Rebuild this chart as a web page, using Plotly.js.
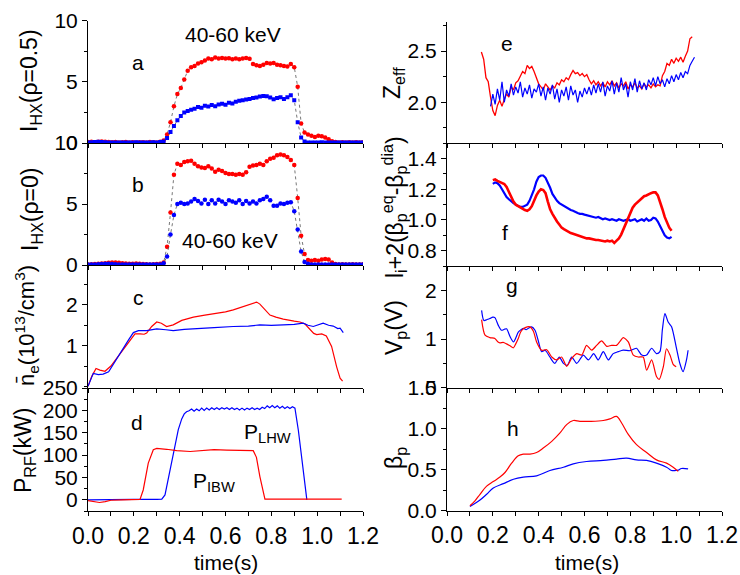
<!DOCTYPE html>
<html>
<head>
<meta charset="utf-8">
<script src="https://cdn.plot.ly/plotly-3.0.1.min.js"></script>
<style>html,body{margin:0;padding:0;background:#fff;}#chart{width:740px;height:575px;}</style>
</head>
<body>
<div id="chart"></div>
<script>
// ---------- data ----------
// panels a, b : hard X-ray intensity (40-60 keV), common sampling times
const t_hx = [0,0.015,0.03,0.045,0.06,0.075,0.09,0.105,0.12,0.135,0.15,0.165,0.18,0.195,0.21,0.225,0.24,0.255,0.27,0.285,0.3,0.315,0.33,0.345,0.36,0.375,0.39,0.405,0.42,0.435,0.45,0.465,0.48,0.495,0.51,0.525,0.54,0.555,0.57,0.585,0.6,0.615,0.63,0.645,0.66,0.675,0.69,0.705,0.72,0.735,0.75,0.765,0.78,0.795,0.81,0.825,0.84,0.855,0.87,0.885,0.9,0.915,0.93,0.945,0.96,0.975,0.99,1.005,1.02,1.035,1.05,1.065,1.08,1.095,1.11,1.125,1.14,1.155,1.17,1.185,1.2];
const a_red = [0.08,0.1,0.06,0.1,0.12,0.1,0.08,0.06,0.08,0.05,0.06,0.08,0.05,0.06,0.05,0.07,0.06,0.05,0.08,0.06,0.05,0.1,
  0.2,0.7,1.7,3.0,4.0,4.5,5.2,5.9,6.2,6.3,6.5,6.6,6.75,6.9,6.85,7.0,6.9,6.95,6.9,6.92,6.85,6.9,6.85,6.9,6.95,6.88,
  6.45,6.35,6.3,6.4,6.55,6.5,6.55,6.4,6.35,6.3,6.25,6.45,6.2,4.6,1.6,0.85,0.7,0.6,0.5,0.6,0.55,0.45,0.3,0.15,0.08,
  0.05,0.06,0.05,0.07,0.05,0.06,0.05,0.06];
const a_blue = [0.05,0.06,0.08,0.1,0.08,0.06,0.05,0.05,0.04,0.05,0.05,0.04,0.05,0.05,0.06,0.05,0.04,0.05,0.05,0.06,0.05,0.08,0.12,
  0.4,0.9,1.4,1.85,2.2,2.5,2.62,2.72,2.8,2.95,2.88,3.05,2.98,3.1,3.0,3.15,3.2,3.12,3.3,3.22,3.38,3.45,3.5,3.55,3.6,
  3.68,3.72,3.8,3.85,3.82,3.72,3.58,3.68,3.75,3.6,3.75,3.9,3.5,1.7,0.45,0.12,
  0.05,0.04,0.05,0.05,0.06,0.05,0.04,0.05,0.05,0.04,0.05,0.05,0.04,0.05,0.05,0.04,0.05];
const b_red = [0.05,0.06,0.08,0.1,0.12,0.15,0.18,0.2,0.2,0.18,0.15,0.12,0.1,0.1,0.12,0.1,0.08,0.06,0.05,0.06,0.08,0.1,
  0.2,1.5,4.3,7.4,8.3,8.2,8.45,8.5,8.55,8.3,8.1,8.0,7.95,8.1,7.9,7.65,7.8,7.7,7.55,7.45,7.45,7.4,7.45,7.4,7.6,8.05,
  8.15,8.2,8.3,8.2,8.5,8.7,8.8,9.0,9.05,9.0,8.85,8.6,8.2,5.5,2.4,0.9,0.4,0.35,0.4,0.35,0.45,0.5,0.45,0.2,0.08,
  0.05,0.06,0.05,0.05,0.06,0.05,0.05,0.06];
const b_blue = [0.05,0.04,0.05,0.06,0.08,0.1,0.1,0.08,0.06,0.05,0.05,0.04,0.05,0.05,0.04,0.05,0.05,0.04,0.05,0.05,0.04,0.05,0.15,
  0.7,2.5,4.1,5.0,5.1,5.0,5.05,5.2,5.4,5.25,5.05,5.35,5.0,5.3,5.05,5.35,5.2,5.0,5.3,5.2,5.1,5.3,5.0,5.25,5.05,
  5.2,5.05,5.3,5.4,5.6,5.3,4.85,4.85,5.05,5.0,5.1,5.15,4.4,2.9,1.1,0.25,
  0.1,0.05,0.04,0.05,0.05,0.04,0.05,0.05,0.04,0.05,0.05,0.04,0.05,0.05,0.04,0.05,0.05];

// panel c : line-averaged density
const c_red_t = [0,0.016,0.035,0.052,0.074,0.1,0.125,0.153,0.183,0.205,0.227,0.245,0.256,0.278,0.3,0.32,0.343,0.372,0.409,0.46,0.51,0.56,0.6,0.634,0.692,0.72,0.736,0.75,0.765,0.78,0.794,0.82,0.852,0.9,0.925,0.947,0.969,0.985,0.998,1.02,1.04,1.063,1.085,1.1,1.111];
const c_red   = [0,0.24,0.44,0.40,0.37,0.50,0.69,0.90,1.14,1.29,1.29,1.28,1.31,1.47,1.58,1.55,1.47,1.51,1.62,1.70,1.75,1.79,1.83,1.88,1.98,2.03,2.07,2.02,1.93,1.82,1.75,1.70,1.65,1.60,1.58,1.53,1.40,1.30,1.27,1.29,1.24,0.98,0.48,0.20,0.13];
const c_blue_t = [0,0.023,0.045,0.066,0.09,0.12,0.147,0.177,0.198,0.22,0.256,0.3,0.34,0.372,0.42,0.489,0.55,0.634,0.7,0.75,0.8,0.852,0.9,0.939,0.96,0.983,1.005,1.026,1.05,1.07,1.09,1.1,1.114];
const c_blue   = [0,0.32,0.29,0.30,0.36,0.64,0.87,1.14,1.32,1.37,1.37,1.41,1.39,1.37,1.40,1.43,1.44,1.47,1.48,1.51,1.50,1.51,1.52,1.55,1.50,1.47,1.52,1.55,1.50,1.48,1.42,1.43,1.32];

// panel d : RF power (kW)
const lhw_t = [0,0.05,0.1,0.2,0.3,0.322,0.336,0.35,0.365,0.38,0.394,0.409,0.42,0.43,
  0.441,0.452,0.463,0.474,0.485,0.496,0.507,0.518,0.529,0.540,0.551,0.562,0.573,0.584,0.595,0.606,0.617,0.628,0.639,0.650,0.661,0.672,0.683,0.694,0.705,0.716,0.727,0.738,0.749,0.760,0.771,0.782,0.793,0.804,0.815,0.826,0.837,0.848,0.859,0.870,0.881,0.892,0.903,
  0.918,0.932,0.947,0.955];
const lhw_p = [0,0.5,1,1,1,1.5,11,45,82,120,157,181,192,197,
  199,203,198,203,199,205,200,205,201,206,202,206,202,206,203,206,202,206,202,205,201,205,201,205,202,206,202,205,202,207,204,210,206,211,206,210,205,209,204,208,204,208,205,
  155,100,40,0];
const ibw_t = [0,0.025,0.05,0.075,0.1,0.15,0.227,0.241,0.263,0.285,0.3,0.343,0.387,0.446,0.49,0.55,0.605,0.663,0.721,0.735,0.75,0.772,0.85,0.95,1.05,1.107];
const ibw_p = [-2,-4,-6,-4,-1,0,1,22,82,112,115,113,110,108,110,112,111,110,110,95,52,1.5,1.5,1.5,1.5,1.5];

// panels e, f : common sampling times
const t_r = [0.10,0.11,0.12,0.13,0.14,0.15,0.16,0.17,0.18,0.19,0.20,0.21,0.22,0.23,0.24,0.25,0.26,0.27,0.28,0.29,0.30,0.31,0.32,0.33,0.34,0.35,0.36,0.37,0.38,0.39,0.40,0.41,0.42,0.43,0.44,0.45,0.46,0.47,0.48,0.49,0.50,0.51,0.52,0.53,0.54,0.55,0.56,0.57,0.58,0.59,0.60,0.61,0.62,0.63,0.64,0.65,0.66,0.67,0.68,0.69,0.70,0.71,0.72,0.73,0.74,0.75,0.76,0.77,0.78,0.79,0.80,0.81,0.82,0.83,0.84,0.85,0.86,0.87,0.88,0.89,0.90,0.91,0.92,0.93,0.94,0.95,0.96,0.97,0.98,0.99,1.00,1.01,1.02,1.03,1.04,1.05,1.06,1.07,1.08];
const e_red = [null,null,null,null,null,
  2.49,2.42,2.24,2.20,2.05,1.92,1.87,1.97,2.02,1.96,
  2.03,2.08,2.05,2.15,2.12,2.19,2.21,2.25,2.30,2.28,
  2.36,2.33,2.35,2.30,2.24,2.18,2.15,2.12,2.18,2.15,
  2.12,2.16,2.14,2.19,2.17,2.22,2.20,2.24,2.22,2.27,
  2.31,2.28,2.29,2.26,2.28,2.25,2.27,2.22,2.18,2.21,
  2.17,2.20,2.16,2.19,2.15,2.20,2.17,2.21,2.16,2.19,
  2.14,2.18,2.16,2.20,2.13,2.17,2.15,2.19,2.14,2.16,
  2.13,2.18,2.15,2.17,2.14,2.18,2.15,2.17,2.16,2.26,
  2.30,2.38,2.36,2.42,2.38,2.43,2.40,2.44,2.39,2.45,
  2.50,2.62,2.64,null];
const e_blue = [null,null,null,null,null,null,null,null,null,
  1.96,2.08,1.98,2.13,2.02,2.20,2.00,2.12,2.06,2.18,
  2.07,2.15,2.09,2.20,2.05,2.14,2.08,2.17,2.04,2.13,
  2.10,2.18,2.06,2.15,2.02,2.14,2.08,2.17,2.03,2.13,
  2.00,2.12,2.06,2.15,2.02,2.16,2.07,2.12,2.00,2.11,
  2.05,2.14,2.08,2.15,2.07,2.17,2.09,2.18,2.10,2.20,
  2.06,2.16,2.11,2.21,2.08,2.19,2.10,2.24,2.12,2.18,
  2.05,2.20,2.12,2.23,2.10,2.21,2.13,2.19,2.12,2.22,
  2.17,2.24,2.16,2.25,2.18,2.22,2.15,2.23,2.18,2.26,
  2.20,2.27,2.22,2.29,2.24,2.30,2.28,2.36,2.40,2.44];
const f_red = [null,null,null,null,null,null,null,null,null,null,
  1.26,1.265,1.255,1.25,1.245,1.235,1.215,1.18,1.145,1.12,
  1.10,1.09,1.085,1.075,1.065,1.06,1.07,1.09,1.13,1.16,
  1.185,1.20,1.195,1.175,1.12,1.07,1.04,1.01,0.99,0.97,
  0.95,0.94,0.93,0.925,0.915,0.91,0.905,0.895,0.89,0.89,
  0.885,0.88,0.88,0.875,0.875,0.87,0.87,0.865,0.865,0.86,
  0.865,0.86,0.865,0.85,0.865,0.88,0.905,0.94,0.98,1.02,
  1.05,1.08,1.10,1.115,1.13,1.145,1.155,1.16,1.17,1.175,
  1.18,1.18,1.16,1.12,1.07,1.02,0.98,0.95,0.93,
  null,null,null,null,null,null,null,null,null,null];
const f_blue = [null,null,null,null,null,null,null,null,null,null,
  1.235,1.245,1.24,1.225,1.20,1.175,1.15,1.135,1.12,1.11,
  1.10,1.09,1.085,1.085,1.09,1.10,1.125,1.16,1.20,1.25,
  1.28,1.29,1.29,1.275,1.245,1.21,1.17,1.145,1.125,1.11,
  1.10,1.09,1.08,1.07,1.065,1.06,1.05,1.045,1.04,1.04,
  1.035,1.03,1.025,1.025,1.02,1.015,1.02,1.01,1.005,1.01,
  1.005,1.00,1.005,1.00,0.995,1.005,1.00,0.995,1.00,1.005,
  0.995,1.00,1.005,0.99,1.00,1.005,0.995,1.01,0.995,1.00,
  1.015,1.01,0.99,0.96,0.93,0.90,0.885,0.88,0.89,
  null,null,null,null,null,null,null,null,null,null];

// panel g : loop voltage
const g_blue_t = [0.151,0.161,0.175,0.187,0.2,0.209,0.224,0.238,0.25,0.26,0.275,0.29,0.3,0.311,0.333,0.345,0.355,0.369,0.384,0.398,0.413,0.428,0.449,0.46,0.471,0.49,0.508,0.525,0.544,0.566,0.595,0.617,0.64,0.66,0.682,0.704,0.725,0.747,0.769,0.798,0.813,0.827,0.85,0.871,0.893,0.914,0.929,0.94,0.951,0.965,0.98,1.0,1.016,1.03,1.045,1.052];
const g_blue   = [1.59,1.38,1.40,1.42,1.45,1.44,1.28,1.18,1.20,1.21,1.05,0.94,1.02,1.14,1.22,1.19,1.22,1.25,1.18,0.97,0.74,0.77,0.63,0.55,0.50,0.63,0.50,0.46,0.63,0.50,0.67,0.57,0.70,0.57,0.74,0.57,0.70,0.74,0.77,0.76,0.79,0.81,0.67,0.67,0.81,0.70,0.74,1.20,1.52,1.35,1.25,0.84,0.50,0.33,0.57,0.77];
const g_red_t = [0.151,0.166,0.187,0.209,0.22,0.231,0.245,0.26,0.275,0.29,0.3,0.311,0.322,0.333,0.35,0.362,0.377,0.391,0.413,0.435,0.457,0.478,0.5,0.522,0.544,0.566,0.588,0.609,0.631,0.653,0.675,0.697,0.718,0.74,0.755,0.769,0.791,0.813,0.835,0.856,0.871,0.893,0.914,0.926,0.944,0.958,0.973,0.987,1.0];
const g_red   = [1.40,1.08,1.03,1.01,0.95,0.92,0.93,0.90,0.86,0.82,0.90,1.01,1.15,1.21,1.25,1.25,1.16,0.94,0.77,0.78,0.63,0.57,0.63,0.44,0.60,0.70,0.67,0.87,0.77,0.87,0.96,0.85,0.87,0.87,0.95,1.03,0.94,0.67,0.63,0.63,0.36,0.57,0.23,0.17,0.43,0.80,0.67,0.48,0.43];

// panel h : poloidal beta
const h_red_t = [0.1,0.122,0.144,0.173,0.202,0.231,0.253,0.282,0.311,0.333,0.362,0.391,0.42,0.457,0.493,0.522,0.551,0.58,0.624,0.682,0.711,0.74,0.762,0.791,0.827,0.871,0.914,0.958,0.987,1.009];
const h_red   = [0.06,0.12,0.20,0.30,0.355,0.41,0.466,0.58,0.67,0.69,0.69,0.71,0.764,0.846,0.948,1.05,1.10,1.09,1.09,1.10,1.12,1.15,1.07,0.93,0.805,0.71,0.62,0.58,0.53,0.48];
const h_blue_t = [0.1,0.144,0.173,0.202,0.246,0.29,0.333,0.391,0.449,0.508,0.551,0.609,0.682,0.74,0.784,0.827,0.871,0.914,0.958,0.98,0.998,1.009,1.023,1.052];
const h_blue   = [0.05,0.13,0.20,0.276,0.33,0.384,0.41,0.425,0.49,0.53,0.572,0.60,0.613,0.63,0.64,0.62,0.613,0.58,0.53,0.49,0.49,0.495,0.515,0.51];

// ---------- figure ----------
const RED = '#ff0000', BLUE = '#0000ff';
const FONT = 'Liberation Sans, Arial, sans-serif';
const W = 740, H = 575;
const px = x => x / W, py = y => 1 - y / H;
const LX = [px(88), px(363)], RX = [px(447), px(722)];

function xax(dom, anchor, labels) {
  return {domain: dom, anchor: anchor, range: [0, 1.2], showline: true, linecolor: '#000', linewidth: 1,
    ticks: 'outside', ticklen: 4, tickcolor: '#000', tickwidth: 1, dtick: 0.2, tick0: 0, tickformat: '.1f',
    showticklabels: labels, tickfont: {family: FONT, size: 23, color: '#000'},
    showgrid: false, zeroline: false,
    minor: {dtick: 0.1, tick0: 0, ticks: 'outside', ticklen: 4, tickcolor: '#000', showgrid: false}};
}
function yax(y0, y1, anchor, range, o) {
  return Object.assign({domain: [py(y1), py(y0)], anchor: anchor, range: range, showline: true, linecolor: '#000', linewidth: 1,
    ticks: 'outside', ticklen: 5, tickcolor: '#000', tickfont: {family: FONT, size: 21, color: '#000'},
    showgrid: false, zeroline: false}, o);
}
function mn(d, t0) { return {dtick: d, tick0: t0 || 0, ticks: 'outside', ticklen: 3, tickcolor: '#000', showgrid: false}; }

const dotLine = {color: '#555', width: 0.8, dash: 'dot'};
const traces = [
  {x: t_hx, y: a_red, xaxis: 'x', yaxis: 'y', mode: 'lines+markers', line: dotLine, marker: {color: RED, size: 4.5, symbol: 'circle'}},
  {x: t_hx, y: a_blue, xaxis: 'x', yaxis: 'y', mode: 'lines+markers', line: dotLine, marker: {color: BLUE, size: 4, symbol: 'square'}},
  {x: t_hx, y: b_red, xaxis: 'x2', yaxis: 'y2', mode: 'lines+markers', line: dotLine, marker: {color: RED, size: 4.5}},
  {x: t_hx, y: b_blue, xaxis: 'x2', yaxis: 'y2', mode: 'lines+markers', line: dotLine, marker: {color: BLUE, size: 4.5}},
  {x: c_red_t, y: c_red, xaxis: 'x3', yaxis: 'y3', mode: 'lines', line: {color: RED, width: 1.2}},
  {x: c_blue_t, y: c_blue, xaxis: 'x3', yaxis: 'y3', mode: 'lines', line: {color: BLUE, width: 1.2}},
  {x: lhw_t, y: lhw_p, xaxis: 'x4', yaxis: 'y4', mode: 'lines', line: {color: BLUE, width: 1.2}},
  {x: ibw_t, y: ibw_p, xaxis: 'x4', yaxis: 'y4', mode: 'lines', line: {color: RED, width: 1.2}},
  {x: t_r, y: e_red, xaxis: 'x5', yaxis: 'y5', mode: 'lines', line: {color: RED, width: 1.3}},
  {x: t_r, y: e_blue, xaxis: 'x5', yaxis: 'y5', mode: 'lines', line: {color: BLUE, width: 1.2}},
  {x: t_r, y: f_blue, xaxis: 'x6', yaxis: 'y6', mode: 'lines', line: {color: BLUE, width: 2.2}},
  {x: t_r, y: f_red, xaxis: 'x6', yaxis: 'y6', mode: 'lines', line: {color: RED, width: 2.6}},
  {x: g_blue_t, y: g_blue, xaxis: 'x7', yaxis: 'y7', mode: 'lines', line: {color: BLUE, width: 1.2, shape: 'spline', smoothing: 0.7}},
  {x: g_red_t, y: g_red, xaxis: 'x7', yaxis: 'y7', mode: 'lines', line: {color: RED, width: 1.2, shape: 'spline', smoothing: 0.7}},
  {x: h_blue_t, y: h_blue, xaxis: 'x8', yaxis: 'y8', mode: 'lines', line: {color: BLUE, width: 1.2, shape: 'spline'}},
  {x: h_red_t, y: h_red, xaxis: 'x8', yaxis: 'y8', mode: 'lines', line: {color: RED, width: 1.2, shape: 'spline'}}
];

function ann(text, x, y, size, angle) {
  return {text: text, x: px(x), y: py(y), xref: 'paper', yref: 'paper', showarrow: false,
    xanchor: 'center', yanchor: 'middle', textangle: angle || 0,
    font: {family: FONT, size: size || 20, color: '#000'}};
}

const layout = {
  width: W, height: H, margin: {l: 0, r: 0, t: 0, b: 0}, showlegend: false,
  paper_bgcolor: '#fff', plot_bgcolor: '#fff', font: {family: FONT, color: '#000'},
  xaxis: xax(LX, 'y', false),
  xaxis2: xax(LX, 'y2', false),
  xaxis3: xax(LX, 'y3', false),
  xaxis4: xax(LX, 'y4', true),
  xaxis5: xax(RX, 'y5', false),
  xaxis6: xax(RX, 'y6', false),
  xaxis7: xax(RX, 'y7', false),
  xaxis8: xax(RX, 'y8', true),
  yaxis: yax(20.7, 143, 'x', [0, 10], {dtick: 5, tick0: 0, minor: mn(2.5)}),
  yaxis2: yax(143, 265, 'x2', [0, 10], {dtick: 5, tick0: 0, minor: mn(2.5)}),
  yaxis3: yax(265, 388, 'x3', [-0.04, 2.98], {tickvals: [1, 2], ticktext: ['1', '2'], minor: mn(0.5, 0.5)}),
  yaxis4: yax(388, 511, 'x4', [-25, 250], {dtick: 50, tick0: 0, minor: mn(25)}),
  yaxis5: yax(21.7, 143.3, 'x5', [1.6, 2.786], {dtick: 0.5, tick0: 2, tickformat: '.1f', minor: mn(0.25, 2)}),
  yaxis6: yax(143.3, 266, 'x6', [0.7, 1.5], {dtick: 0.2, tick0: 0.8, tickformat: '.1f', minor: mn(0.1, 0.8)}),
  yaxis7: yax(266, 387.7, 'x7', [0, 2.5], {dtick: 1, tick0: 0, minor: mn(0.5)}),
  yaxis8: yax(387.7, 510.7, 'x8', [0, 1.5], {dtick: 0.5, tick0: 0, tickformat: '.1f', minor: mn(0.25)}),
  annotations: [
    ann('I<sub>HX</sub>(ρ=0.5)', 31, 81, 23, -90),
    ann('I<sub>HX</sub>(ρ=0)', 31, 210, 23, -90),
    ann('n\u0304<sub>e</sub>(10<sup>13</sup>/cm<sup>3</sup>)', 26, 326, 22, -90),
    ann('P<sub>RF</sub>(kW)', 24, 451, 23, -90),
    ann('Z<sub>eff</sub>', 393, 83, 23, -90),
    ann('l<sub>i</sub>+2(β<sub>p</sub><sup>eq</sup>-β<sub>p</sub><sup>dia</sup>)', 394, 207, 23, -90),
    ann('V<sub>p</sub>(V)', 395, 328, 23, -90),
    ann('β<sub>p</sub>', 395, 458, 23, -90),
    ann('time(s)', 226, 562, 21),
    ann('time(s)', 587, 562, 21),
    ann('a', 138, 63, 21), ann('40-60 keV', 233, 35, 21),
    ann('b', 138, 185, 21), ann('40-60 keV', 230, 240, 21),
    ann('c', 138, 297, 21),
    ann('d', 137, 422, 21),
    ann('P<sub>LHW</sub>', 267, 433, 21),
    ann('P<sub>IBW</sub>', 214, 482, 21),
    ann('e', 507, 43, 21),
    ann('f', 505, 232, 21),
    ann('g', 512, 285, 21),
    ann('h', 513, 428, 21)
  ]
};

Plotly.newPlot('chart', traces, layout, {staticPlot: true, displayModeBar: false});
</script>
</body>
</html>
